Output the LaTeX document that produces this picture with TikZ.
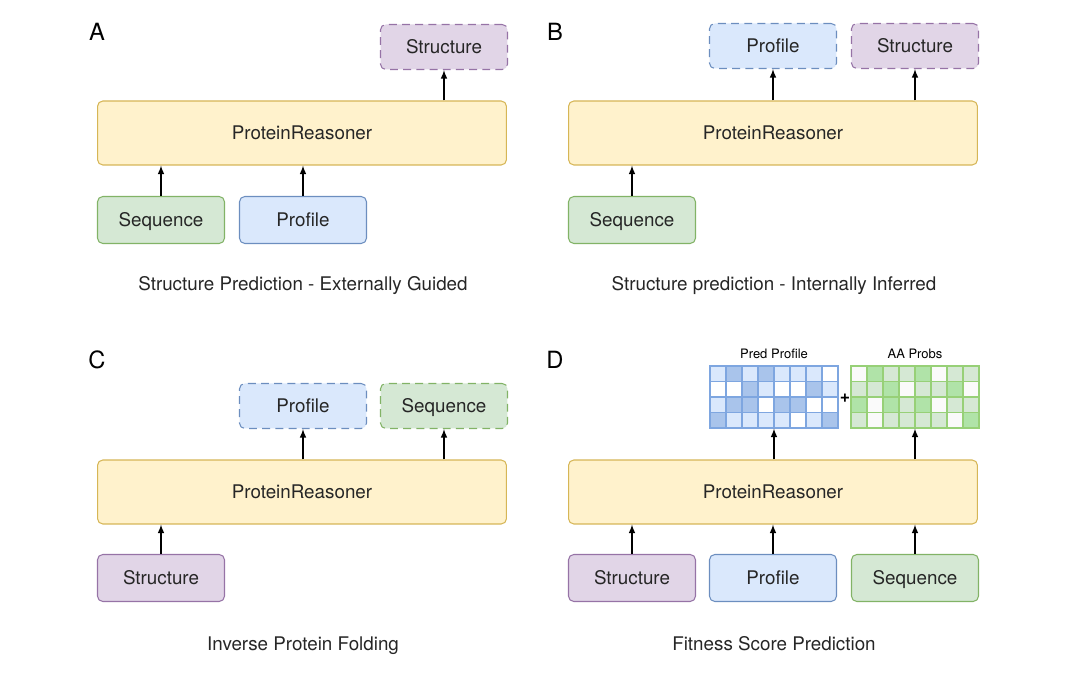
\documentclass[tikz,border=0pt]{standalone}
\usepackage{fontspec}
\setmainfont{TeX Gyre Heros}
\usepackage{xcolor}
\usepackage{tikz}
\usetikzlibrary{arrows,positioning}
\definecolor{yelfill}{HTML}{FFF2CC}
\definecolor{yeldraw}{HTML}{D6B656}
\definecolor{grnfill}{HTML}{D5E8D4}
\definecolor{grndraw}{HTML}{82B366}
\definecolor{blufill}{HTML}{DAE8FC}
\definecolor{bludraw}{HTML}{6C8EBF}
\definecolor{purfill}{HTML}{E1D5E7}
\definecolor{purdraw}{HTML}{9673A6}
% grid cells
\definecolor{bL}{HTML}{DAE8FC}
\definecolor{bM}{HTML}{A9C4EB}
\definecolor{bW}{HTML}{FFFFFF}
\definecolor{bline}{HTML}{7EA6E0}
\definecolor{gL}{HTML}{D5E8D4}
\definecolor{gM}{HTML}{B0E3A8}
\definecolor{gW}{HTML}{FAFAFA}
\definecolor{gline}{HTML}{97D077}
\tikzstyle{box}=[draw, rounded corners=3pt, line width=0.6pt, minimum width=2.54cm, minimum height=0.94cm, text height=0.78em, text depth=0em, text=black!85, font=\fontsize{10.7}{12}\selectfont]
\tikzstyle{reasoner}=[box, fill=yelfill, draw=yeldraw, minimum width=8.18cm, minimum height=1.28cm]
\tikzstyle{seqbox}=[box, fill=grnfill, draw=grndraw]
\tikzstyle{profbox}=[box, fill=blufill, draw=bludraw]
\tikzstyle{structbox}=[box, fill=purfill, draw=purdraw]
\tikzstyle{dashbox}=[dash pattern=on 4.5pt off 3pt, minimum height=0.9cm]
\tikzstyle{arrow}=[-latex, line width=0.7pt]
\tikzstyle{letter}=[font=\fontsize{13.5}{15}\selectfont]
\tikzstyle{caption}=[text height=0.78em, text depth=0em, text=black!85, font=\fontsize{10.7}{12}\selectfont]
\tikzstyle{gridtitle}=[font=\fontsize{7.4}{9}\selectfont]

\begin{document}
\begin{tikzpicture}[x=0.02cm,y=-0.02cm]
\useasboundingbox (0,0) rectangle (1080,678);
% A
\node[letter](letA) at (97,32) {A};
\node[structbox,dashbox](structA) at (444,47) {Structure};
\node[reasoner](reasA) at (302,133) {ProteinReasoner};
\node[seqbox](seqA) at (161,220) {Sequence};
\node[profbox](profA) at (303,220) {Profile};
\node[caption](capA) at (303,284) {Structure Prediction - Externally Guided};
\draw[arrow] (seqA) -- (seqA |- reasA.south);
\draw[arrow] (profA) -- (profA |- reasA.south);
\draw[arrow] (structA |- reasA.north) -- (structA);
% B
\node[letter](letB) at (555,32) {B};
\node[profbox,dashbox](profB) at (773,46) {Profile};
\node[structbox,dashbox](structB) at (915,46) {Structure};
\node[reasoner](reasB) at (773,133) {ProteinReasoner};
\node[seqbox](seqB) at (632,220) {Sequence};
\node[caption](capB) at (774,284) {Structure prediction - Internally Inferred};
\draw[arrow] (seqB) -- (seqB |- reasB.south);
\draw[arrow] (profB |- reasB.north) -- (profB);
\draw[arrow] (structB |- reasB.north) -- (structB);
% C
\node[letter](letC) at (97,360) {C};
\node[profbox,dashbox](profC) at (303,406) {Profile};
\node[seqbox,dashbox](seqC) at (444,406) {Sequence};
\node[reasoner](reasC) at (302,492) {ProteinReasoner};
\node[structbox](structC) at (161,578) {Structure};
\node[caption](capC) at (303,644) {Inverse Protein Folding};
\draw[arrow] (structC) -- (structC |- reasC.south);
\draw[arrow] (profC |- reasC.north) -- (profC);
\draw[arrow] (seqC |- reasC.north) -- (seqC);
% D
\node[letter](letD) at (555,360) {D};
\node[gridtitle](predT) at (774,354) {Pred Profile};
\node[gridtitle](aaT) at (915,354) {AA Probs};
\node[draw=bline, line width=0.6pt, minimum width=2.56cm, minimum height=1.24cm, inner sep=0pt](predD) at (774,397) {};
\node[draw=gline, line width=0.6pt, minimum width=2.56cm, minimum height=1.24cm, inner sep=0pt](aaD) at (915,397) {};
\foreach \c [count=\i from 0] in {L,M,L,M,L,L,L,W, W,W,M,L,W,W,M,L, L,M,M,W,M,M,W,W, M,L,L,L,L,W,L,M}{
  \pgfmathtruncatemacro\col{mod(\i,8)}
  \pgfmathtruncatemacro\row{div(\i,8)}
  \draw[bline, line width=0.6pt, fill=b\c] ({710+\col*16},{366+\row*15.5}) rectangle ++(16,15.5);
}
\foreach \c [count=\i from 0] in {W,M,L,L,M,W,L,L, L,L,M,W,L,L,M,W, M,W,M,L,M,W,L,L, L,W,L,L,L,L,W,M}{
  \pgfmathtruncatemacro\col{mod(\i,8)}
  \pgfmathtruncatemacro\row{div(\i,8)}
  \draw[gline, line width=0.6pt, fill=g\c] ({851+\col*16},{366+\row*15.5}) rectangle ++(16,15.5);
}
\node[font=\bfseries\fontsize{10}{12}\selectfont](plusD) at (845,398) {+};
\node[reasoner](reasD) at (773,492) {ProteinReasoner};
\node[structbox](structD) at (632,578) {Structure};
\node[profbox](profD) at (773,578) {Profile};
\node[seqbox](seqD) at (915,578) {Sequence};
\node[caption](capD) at (774,644) {Fitness Score Prediction};
\draw[arrow] (structD) -- (structD |- reasD.south);
\draw[arrow] (profD) -- (profD |- reasD.south);
\draw[arrow] (seqD) -- (seqD |- reasD.south);
\draw[arrow] (predD |- reasD.north) -- (predD);
\draw[arrow] (aaD |- reasD.north) -- (aaD);
\end{tikzpicture}
\end{document}
